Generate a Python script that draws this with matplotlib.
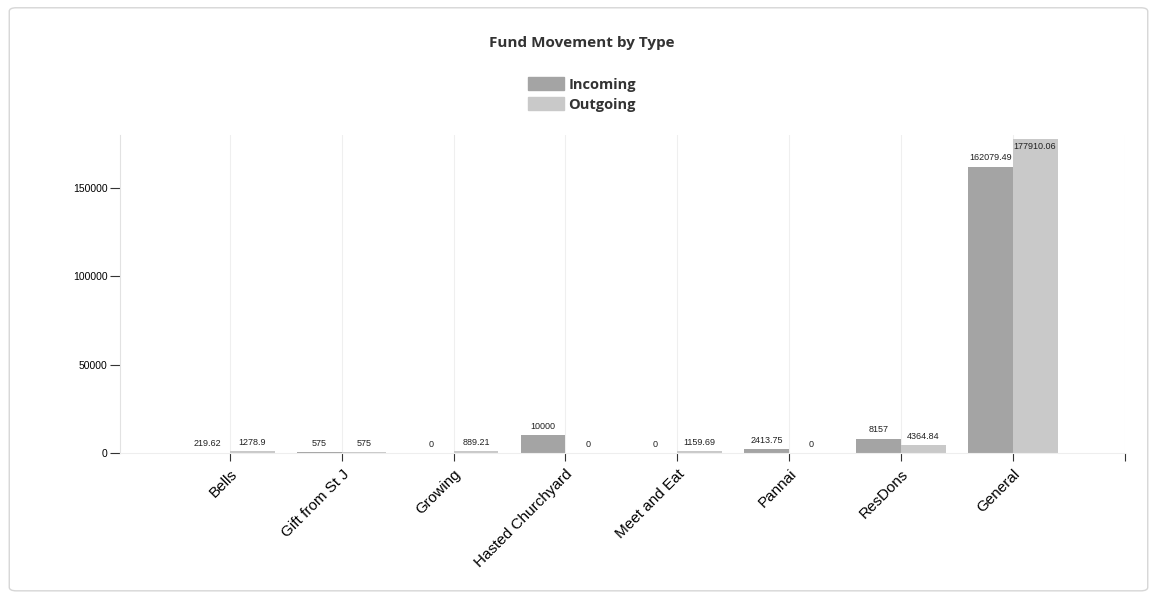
import matplotlib.pyplot as plt
from matplotlib.patches import FancyBboxPatch, Patch
import numpy as np

categories = ["Bells", "Gift from St J", "Growing", "Hasted Churchyard",
              "Meet and Eat", "Pannai", "ResDons", "General"]
incoming = [219.62, 575, 0, 10000, 0, 2413.75, 8157, 162079.49]
outgoing = [1278.9, 575, 889.21, 0, 1159.69, 0, 4364.84, 177910.06]

c_in = "#a4a4a4"
c_out = "#c9c9c9"

fig = plt.figure(figsize=(11.57, 5.98), dpi=100)
fig.patches.append(FancyBboxPatch((0.008, 0.012), 0.984, 0.975,
                                  boxstyle="round,pad=0,rounding_size=0.006",
                                  transform=fig.transFigure, fill=False,
                                  edgecolor="#d6d6d6", linewidth=1.0))

ax = fig.add_axes([0.104, 0.2425, 0.868, 0.532])
x = np.arange(len(categories))
w = 0.4
b1 = ax.bar(x - w / 2, incoming, w, color=c_in, label="Incoming")
b2 = ax.bar(x + w / 2, outgoing, w, color=c_out, label="Outgoing")

def fmt(v):
    return ("%.2f" % v).rstrip("0").rstrip(".")

ax.bar_label(b1, labels=[fmt(v) for v in incoming], padding=3, fontsize=6.5,
             color="#222222", family="Liberation Sans")
lab2 = ax.bar_label(b2, labels=[fmt(v) for v in outgoing], padding=3, fontsize=6.5,
                    color="#222222", family="Liberation Sans")
# the last outgoing label sits inside the bar top
lab2[-1].set_position((0, -9))

ax.set_xlim(-0.98, 8.0)
ax.set_ylim(0, 180000)
ax.set_xticks(list(x) + [8])
ax.set_xticklabels(categories + [""], rotation=45, ha="right",
                   rotation_mode="anchor", fontsize=11, family="Liberation Sans")
ax.set_yticks([0, 50000, 100000, 150000])
ax.set_yticklabels(["0", "50000", "100000", "150000"], fontsize=7.5,
                   family="Liberation Sans")
ax.tick_params(axis="y", length=7, width=0.8, color="#333333", pad=2)
ax.tick_params(axis="x", length=6, width=0.8, color="#333333", pad=4)

for s in ["top", "right"]:
    ax.spines[s].set_visible(False)
ax.spines["left"].set_color("#e2e2e2")
ax.spines["bottom"].set_color("#eeeeee")
ax.grid(axis="x", color="#efefef", linewidth=0.8)
ax.set_axisbelow(True)

fig.text(0.503, 0.928, "Fund Movement by Type", ha="center", va="center",
         fontsize=11, fontweight="bold", family="Open Sans", color="#333333")

handles = [Patch(color=c_in), Patch(color=c_out)]
leg = fig.legend(handles, ["Incoming", "Outgoing"], loc="center",
                 bbox_to_anchor=(0.503, 0.842), frameon=False,
                 prop={"family": "Open Sans", "weight": "bold", "size": 10.5},
                 handlelength=2.5, handleheight=1.0, labelspacing=0.35,
                 handletextpad=0.3)
for t in leg.get_texts():
    t.set_color("#333333")

fig.savefig("out.png", dpi=100)
